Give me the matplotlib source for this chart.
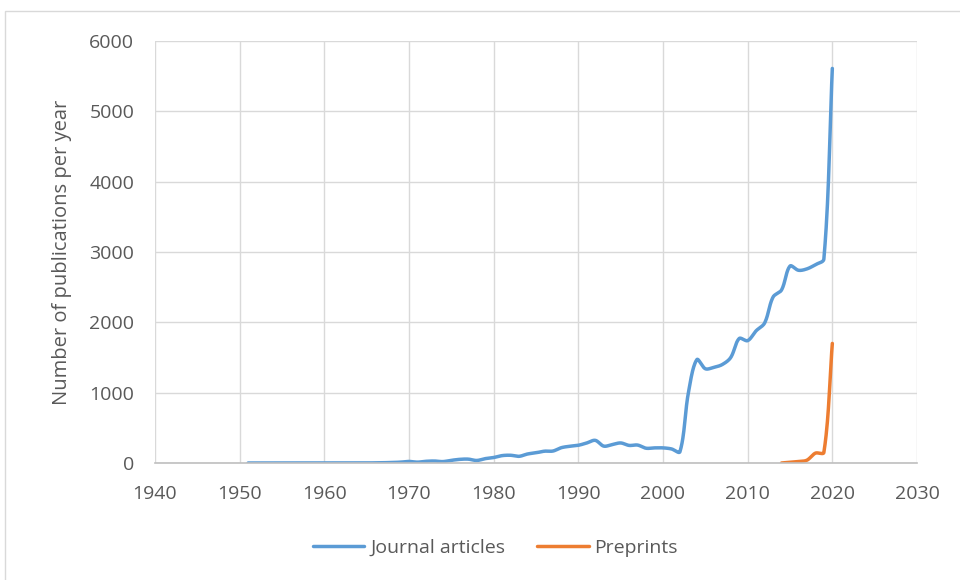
import numpy as np
import matplotlib
matplotlib.use('Agg')
import matplotlib.pyplot as plt
from matplotlib.patches import Rectangle

# data
journal_years = list(range(1951, 2021))
journal_counts = [0, 0, 0, 0, 0, 0, 0, 0, 0, 0,
                  0, 0, 0, 0, 1, 2, 4, 7, 12, 22,
                  12, 24, 28, 20, 38, 52, 55, 36, 62, 78,
                  105, 110, 95, 128, 145, 168, 170, 218, 238, 252,
                  285, 322, 240, 262, 285, 250, 255, 210, 215, 215,
                  200, 160, 1000, 1470, 1340, 1360, 1400, 1500, 1770, 1740,
                  1880, 1990, 2360, 2460, 2800, 2740, 2760, 2820, 2900, 5610]

preprint_years = [2014, 2015, 2016, 2017, 2018, 2019, 2020]
preprint_counts = [0, 10, 20, 40, 140, 150, 1700]

series_names = ['Journal articles', 'Preprints']
blue = '#5B9BD5'
orange = '#ED7D31'
text_col = '#595959'

# pixel scale of the plot area, used to weight the smoothing like excel does
xscale = 762 / 90
yscale = 422 / 6000


def smooth(x, y, n=24):
    # excel-like smoothed line: bezier through the points, tangents split by segment length
    x = np.asarray(x, float)
    y = np.asarray(y, float)
    pts = np.column_stack([x * xscale, y * yscale])
    m = len(pts)
    out = []
    t = np.linspace(0, 1, n, endpoint=False)[:, None]
    for i in range(m - 1):
        p0, p3 = pts[i], pts[i + 1]
        d = np.linalg.norm(p3 - p0)
        if i > 0:
            dp = np.linalg.norm(p0 - pts[i - 1])
            c1 = p0 + (p3 - pts[i - 1]) / 3 * d / (dp + d)
        else:
            c1 = p0 + (p3 - p0) / 3
        if i + 2 < m:
            dn = np.linalg.norm(pts[i + 2] - p3)
            c2 = p3 - (pts[i + 2] - p0) / 3 * d / (d + dn)
        else:
            c2 = p3 - (p3 - p0) / 3
        b = (1 - t) ** 3 * p0 + 3 * (1 - t) ** 2 * t * c1 + 3 * (1 - t) * t ** 2 * c2 + t ** 3 * p3
        out.append(b)
    out.append(pts[-1:])
    out = np.vstack(out)
    return out[:, 0] / xscale, out[:, 1] / yscale


plt.rcParams['font.family'] = ['Open Sans', 'DejaVu Sans']

fig = plt.figure(figsize=(9.6, 5.8), dpi=100)
fig.patches.append(Rectangle((5 / 960, -0.01), 1.0, 1 - 11 / 580 + 0.01,
                             transform=fig.transFigure, fill=False,
                             edgecolor='#D9D9D9', linewidth=1))
ax = fig.add_axes([155 / 960, 1 - 463 / 580, (917 - 155) / 960, (463 - 41) / 580])

jx, jy = smooth(journal_years, journal_counts)
px_, py_ = smooth(preprint_years, preprint_counts)
ax.plot(jx, jy, color=blue, lw=2.5, solid_capstyle='round', label=series_names[0])
ax.plot(px_, py_, color=orange, lw=2.5, solid_capstyle='round', label=series_names[1])

ax.set_xlim(1940, 2030)
ax.set_ylim(0, 6000)
ax.set_xticks(range(1940, 2031, 10))
ax.set_yticks(range(0, 6001, 1000))
ax.grid(True, color='#D9D9D9', lw=1)
ax.set_axisbelow(True)
for s in ['top', 'right', 'left']:
    ax.spines[s].set_visible(False)
ax.spines['bottom'].set_color('#BFBFBF')
ax.spines['bottom'].set_linewidth(1.2)
ax.tick_params(length=0, labelsize=14, labelcolor=text_col)
ax.tick_params(axis='y', pad=15)
ax.tick_params(axis='x', pad=16)
ax.set_ylabel('Number of publications per year', fontsize=14.5, color=text_col)
ax.yaxis.set_label_coords(-0.109, 0.5)

fig.legend(loc='center', bbox_to_anchor=(0.516, 1 - 548 / 580), ncol=2, frameon=False,
           fontsize=14, labelcolor=text_col, handlelength=2.65, handletextpad=0.3,
           columnspacing=1.65)

fig.savefig('out.png', dpi=100)
